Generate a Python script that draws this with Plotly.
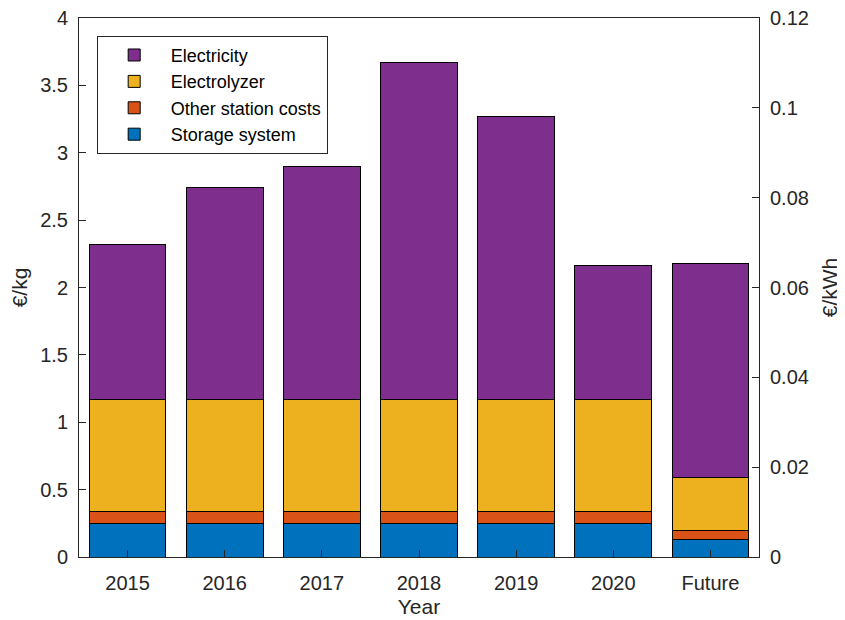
import plotly.graph_objects as go

years = ['2015', '2016', '2017', '2018', '2019', '2020', 'Future']
storage = [0.25, 0.25, 0.25, 0.25, 0.25, 0.25, 0.13]
other_costs = [0.09, 0.09, 0.09, 0.09, 0.09, 0.09, 0.07]
electrolyzer = [0.83, 0.83, 0.83, 0.83, 0.83, 0.83, 0.39]
electricity = [1.15, 1.57, 1.73, 2.50, 2.10, 0.99, 1.59]

kg_to_kwh = 0.12 / 4  # right axis scale

series = [
    ('Storage system', storage, '#0072BD'),
    ('Other station costs', other_costs, '#D95319'),
    ('Electrolyzer', electrolyzer, '#EDB120'),
    ('Electricity', electricity, '#7E2F8E'),
]

font = dict(family='Liberation Sans, Arial, sans-serif', size=20, color='#262626')
axcol = '#262626'

fig = go.Figure()
for name, vals, col in series:
    fig.add_trace(go.Bar(
        x=list(range(1, len(years) + 1)), y=vals, name=name,
        marker=dict(color=col, line=dict(color='black', width=1)),
        width=0.79,
    ))

# invisible trace to drive the €/kWh axis
totals = [sum(v) for v in zip(storage, other_costs, electrolyzer, electricity)]
fig.add_trace(go.Scatter(
    x=list(range(1, len(years) + 1)), y=[t * kg_to_kwh for t in totals],
    yaxis='y2', mode='markers', marker=dict(opacity=0), showlegend=False,
    hoverinfo='skip',
))

fig.update_layout(
    width=845, height=620,
    barmode='stack',
    plot_bgcolor='white', paper_bgcolor='white',
    font=font,
    margin=dict(l=71, r=94, t=10, b=71),
    xaxis=dict(
        range=[0.5, 7.5], tickvals=list(range(1, 8)), ticktext=years,
        showline=True, linecolor=axcol, linewidth=1, mirror=True,
        ticks='inside', ticklen=7, tickcolor=axcol,
        showgrid=False, zeroline=False, automargin=False,
        ticklabelstandoff=8, ticklabeloverflow='allow',
        title=dict(text='Year', font=dict(size=21), standoff=6),
    ),
    yaxis=dict(
        range=[0, 4], dtick=0.5,
        showline=True, linecolor=axcol, linewidth=1,
        ticks='inside', ticklen=7, tickcolor=axcol,
        showgrid=False, zeroline=False, automargin=False,
        ticklabelstandoff=6, ticklabeloverflow='allow',
        title=dict(text='€/kg', font=dict(size=21), standoff=8),
    ),
    yaxis2=dict(
        range=[0, 0.12], dtick=0.02, overlaying='y', side='right',
        showline=True, linecolor=axcol, linewidth=1,
        ticks='inside', ticklen=7, tickcolor=axcol,
        showgrid=False, zeroline=False, automargin=False,
        ticklabelstandoff=6, ticklabeloverflow='allow',
        title=dict(text='€/kWh', font=dict(size=21), standoff=14),
    ),
    legend=dict(
        x=0.026, y=0.967, xanchor='left', yanchor='top',
        traceorder='reversed',
        bgcolor='white', bordercolor=axcol, borderwidth=1,
        font=dict(size=18, color='#000000'),
        tracegroupgap=0, itemwidth=63,
    ),
    showlegend=True,
)

fig.write_html("out.html")
